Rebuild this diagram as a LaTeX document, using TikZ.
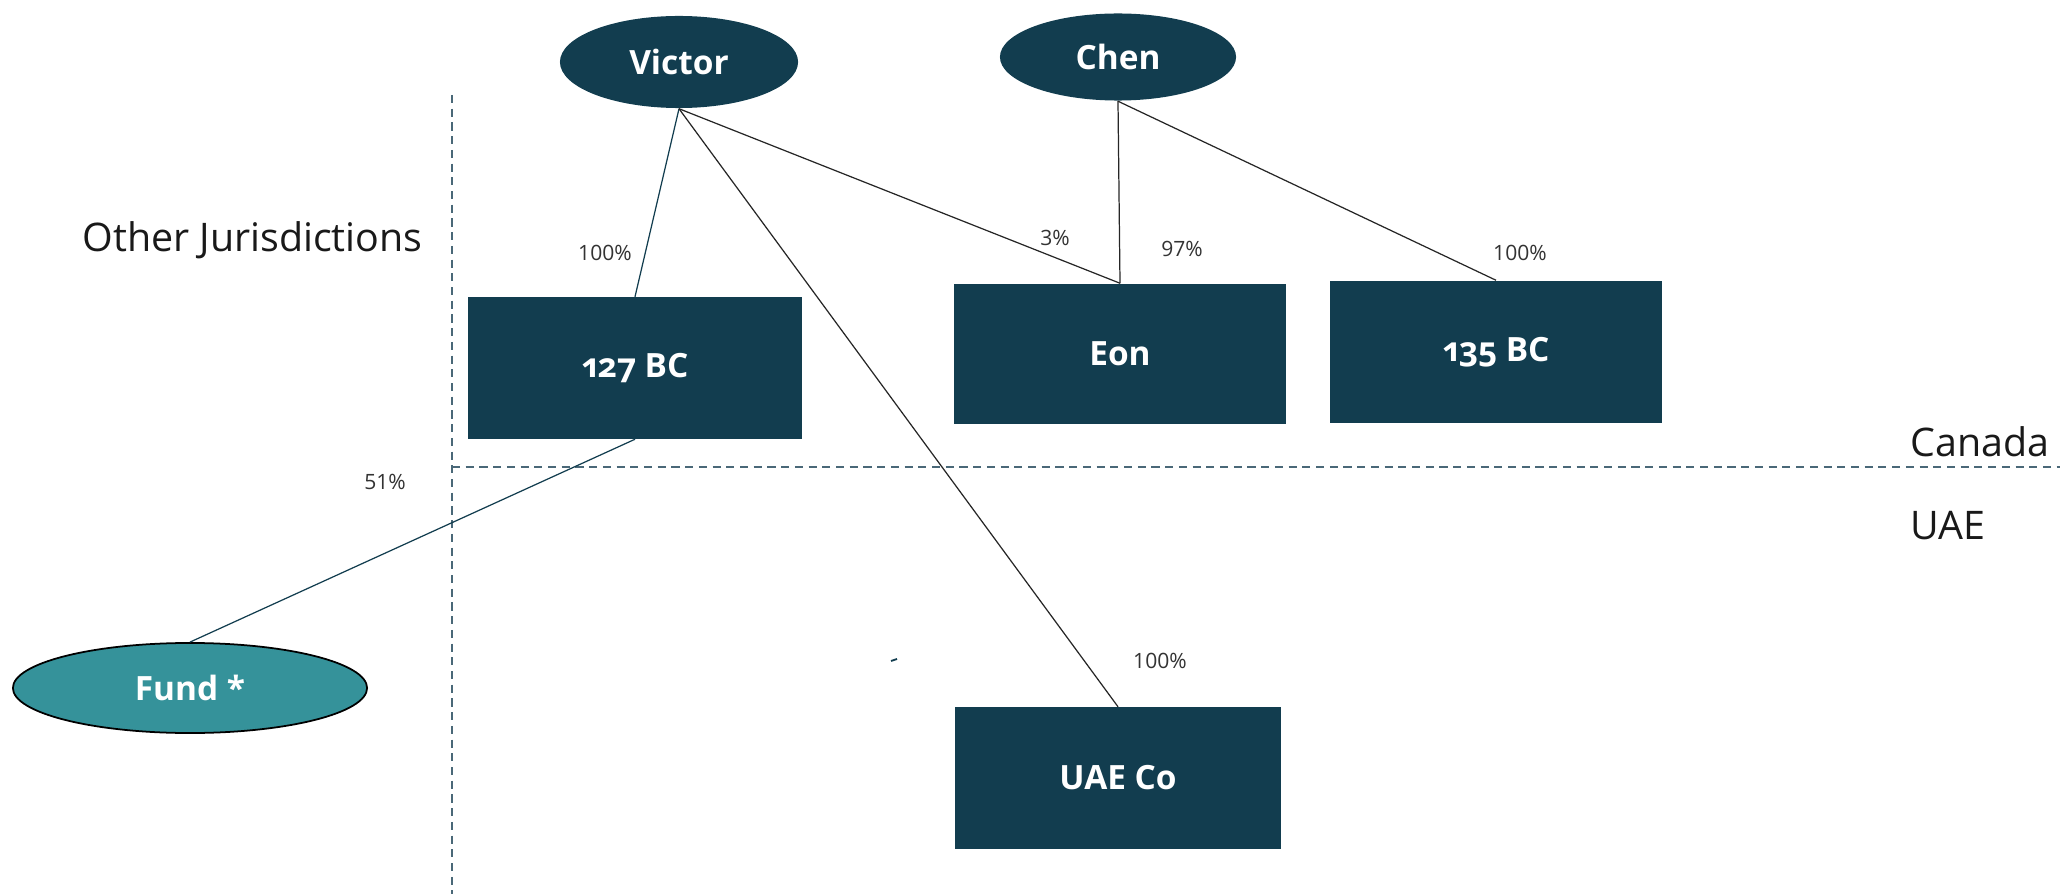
\documentclass[tikz,border=0pt]{standalone}
\usepackage{fontspec}
\setmainfont{Open Sans}
\newfontfamily\entityfont[Numbers=OldStyle]{Open Sans}
\usetikzlibrary{shapes.geometric}

\definecolor{deepteal}{HTML}{123D4F}
\definecolor{fundteal}{HTML}{35929A}
\definecolor{rulegrey}{HTML}{4A6878}

\tikzset{
  entity/.style={rectangle, fill=deepteal, text=white, inner sep=0pt,
    font=\entityfont\bfseries\fontsize{9.5}{11}\selectfont},
  holder/.style={ellipse, fill=deepteal, text=white, inner sep=0pt,
    font=\entityfont\bfseries\fontsize{9.5}{11}\selectfont},
  pct/.style={font=\fontsize{6}{7}\selectfont, text=black!80},
  region/.style={font=\fontsize{11.2}{13}\selectfont, text=black!90},
  own/.style={draw=black!85, line width=0.35pt},
  border/.style={draw=rulegrey, line width=0.35pt, dash pattern=on 2.3pt off 1.6pt},
}

\begin{document}
\begin{tikzpicture}[x=0.01cm, y=-0.01cm]
        \useasboundingbox (0,0) rectangle (2060,894);
        % jurisdiction borders
        \coordinate (vtop) at (452,95);
        \coordinate (vbot) at (452,894);
        \coordinate (hleft) at (452,467);
        \coordinate (hright) at (2060,467);
        \draw[border] (vtop) -- (vbot);
        \draw[border] (hleft) -- (hright);

        \node[region, anchor=west] (other) at (70,240) {Other Jurisdictions};
        \node[region, anchor=west] (canada) at (1898,442) {Canada};
        \node[region, anchor=west] (uae) at (1898,526) {UAE};

        % owners
        \node[holder, minimum width=2.38cm, minimum height=0.92cm] (victor) at (679,62) {Victor};
        \node[holder, minimum width=2.36cm, minimum height=0.87cm] (chen) at (1118,57) {Chen};
        \node[ellipse, draw=black, line width=0.5pt, fill=fundteal, text=white, inner sep=0pt,
              font=\entityfont\bfseries\fontsize{9.5}{11}\selectfont,
              minimum width=3.54cm, minimum height=0.9cm] (fund) at (190,688) {Fund *};

        % companies
        \node[entity, minimum width=3.33cm, minimum height=1.41cm] (bc127) at (635,368) {127 BC};
        \node[entity, minimum width=3.31cm, minimum height=1.40cm] (eon) at (1120,354) {Eon};
        \node[entity, minimum width=3.31cm, minimum height=1.42cm] (bc135) at (1496,352) {135 BC};
        \node[entity, minimum width=3.26cm, minimum height=1.41cm] (uaeco) at (1118,778) {UAE Co};

        % holdings
        \draw[own, draw=deepteal] (victor.south) -- (bc127.north);
        \draw[own] (victor.south) -- (eon.north);
        \draw[own] (victor.south) -- (uaeco.north);
        \draw[own] (chen.south) -- (eon.north);
        \draw[own] (chen.south) -- (bc135.north);
        \draw[own, draw=deepteal] (bc127.south) -- (fund.north);

        \node[pct] (p127) at (605,253) {100\%};
        \node[pct] (p3) at (1055,238) {3\%};
        \node[pct] (p97) at (1182,249) {97\%};
        \node[pct] (p135) at (1520,253) {100\%};
        \node[pct] (p51) at (385,482) {51\%};
        \node[pct] (puae) at (1160,661) {100\%};

        \draw[draw=deepteal, line width=0.5pt] (891,661) -- (897,659);
    \end{tikzpicture}
\end{document}
